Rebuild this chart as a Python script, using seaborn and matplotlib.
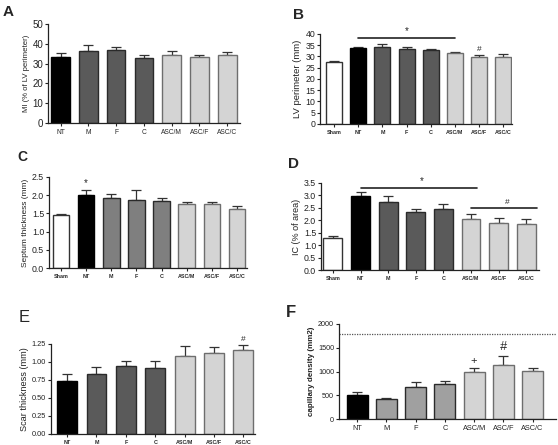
import matplotlib
matplotlib.use("Agg")
import matplotlib.pyplot as plt
import seaborn as sns
import pandas as pd
import numpy as np

sns.set_style("ticks")
plt.rcParams['font.family'] = ['Liberation Sans', 'DejaVu Sans']

cats7 = ["NT", "M", "F", "C", "ASC/M", "ASC/F", "ASC/C"]
cats8 = ["Sham"] + cats7

a_vals = [33.5, 36.5, 37.0, 33.0, 34.5, 33.3, 34.5]
a_err = [2.0, 3.0, 1.3, 1.2, 2.0, 0.8, 1.5]

b_vals = [27.5, 33.7, 34.3, 33.3, 32.7, 31.7, 29.7, 29.7]
b_err = [0.3, 0.3, 1.2, 1.0, 0.5, 0.5, 1.0, 1.3]

c_vals = [1.45, 2.0, 1.93, 1.88, 1.85, 1.75, 1.75, 1.63]
c_err = [0.02, 0.15, 0.1, 0.27, 0.07, 0.07, 0.05, 0.07]

d_vals = [1.28, 2.97, 2.73, 2.32, 2.45, 2.07, 1.90, 1.87]
d_err = [0.1, 0.17, 0.26, 0.13, 0.22, 0.2, 0.2, 0.17]

e_vals = [0.73, 0.83, 0.94, 0.91, 1.08, 1.12, 1.17]
e_err = [0.1, 0.1, 0.07, 0.1, 0.14, 0.09, 0.06]

f_vals = [500, 430, 680, 730, 1000, 1130, 1010]
f_err = [60, 20, 100, 60, 80, 190, 70]
f_ref = 1780

W, H = 558, 445
fig = plt.figure(figsize=(W / 100, H / 100), dpi=100)


def add_ax(left, right, top, bottom):
    return fig.add_axes([left / W, 1 - bottom / H, (right - left) / W, (bottom - top) / H])


def panel(ax, cats, vals, errs, mid, ylim, yticks, ylabel, xlim, width,
          xfont=3.9, xbold=True, ylabfont=6.0, ytickfont=6.0, yticklab=None,
          ylabbold=False):
    df = pd.DataFrame({"g": cats, "v": vals})
    fills, edges = [], []
    for c in cats:
        if c == "Sham":
            fills.append("white"); edges.append("#333333")
        elif c == "NT":
            fills.append("black"); edges.append("black")
        elif c.startswith("ASC"):
            fills.append("#d4d4d4"); edges.append("#6e6e6e")
        else:
            fills.append(mid); edges.append("#2a2a2a")
    sns.barplot(data=df, x="g", y="v", hue="g", palette=fills, legend=False,
                order=cats, width=width, ax=ax, errorbar=None, zorder=2)
    for p, ec in zip(ax.patches, edges):
        p.set_edgecolor(ec)
        p.set_linewidth(1.0)
    x = np.arange(len(cats))
    ax.errorbar(x, vals, yerr=[np.zeros(len(cats)), errs], fmt="none",
                ecolor="#333333", elinewidth=0.9, capsize=3.5, capthick=0.9, zorder=1)
    ax.set_ylim(*ylim)
    ax.set_xlim(*xlim)
    ax.set_yticks(yticks)
    if yticklab is not None:
        ax.set_yticklabels(yticklab)
    ax.set_xlabel("")
    ax.set_ylabel(ylabel, fontsize=ylabfont, color="#222222", labelpad=2,
                  fontweight="bold" if ylabbold else "normal")
    ax.tick_params(axis="y", labelsize=ytickfont, length=2.5, width=0.8, pad=1, colors="#222222")
    ax.tick_params(axis="x", labelsize=xfont, length=2, width=0.8, pad=2)
    for t in ax.get_xticklabels():
        t.set_fontweight("bold" if xbold else "normal")
    for s in ["top", "right"]:
        ax.spines[s].set_visible(False)
    for s in ["left", "bottom"]:
        ax.spines[s].set_linewidth(0.9)
        ax.spines[s].set_color("#222222")


# Panel A
axA = add_ax(48, 240, 24, 123)
panel(axA, cats7, a_vals, a_err, "#5a5a5a", (0, 50), [0, 10, 20, 30, 40, 50],
      "MI (% of LV perimeter)", (-0.45, 6.46), 0.67, xfont=4.8, xbold=False,
      ylabfont=5.6, ytickfont=7)

# Panel B
axB = add_ax(320, 512, 34, 124)
panel(axB, cats8, b_vals, b_err, "#5a5a5a", (0, 40), list(range(0, 41, 5)),
      "LV perimeter (mm)", (-0.58, 7.36), 0.66, ylabfont=6.8, ytickfont=6.3)
axB.plot([1, 5], [38.3, 38.3], color="#222222", lw=1.2, clip_on=False)
axB.text(3, 39.0, "*", ha="center", va="bottom", fontsize=7)
axB.text(6, b_vals[6] + b_err[6] + 0.8, "#", ha="center", va="bottom", fontsize=6)

# Panel C
axC = add_ax(49, 247, 177, 268)
panel(axC, cats8, c_vals, c_err, "#7f7f7f", (0, 2.5), [0, 0.5, 1.0, 1.5, 2.0, 2.5],
      "Septum thickness (mm)", (-0.48, 7.4), 0.66, ylabfont=6.0, ytickfont=6.3,
      yticklab=["0.0", "0.5", "1.0", "1.5", "2.0", "2.5"])
axC.text(1, c_vals[1] + c_err[1] + 0.05, "*", ha="center", va="bottom", fontsize=7)

# Panel D
axD = add_ax(321, 539, 183, 270)
panel(axD, cats8, d_vals, d_err, "#5a5a5a", (0, 3.5), [0, 0.5, 1.0, 1.5, 2.0, 2.5, 3.0, 3.5],
      "IC (% of area)", (-0.43, 7.46), 0.68, ylabfont=6.5, ytickfont=6.3,
      yticklab=["0.0", "0.5", "1.0", "1.5", "2.0", "2.5", "3.0", "3.5"])
axD.plot([1, 5.2], [3.3, 3.3], color="#222222", lw=1.2, clip_on=False)
axD.text(3.2, 3.37, "*", ha="center", va="bottom", fontsize=7)
axD.plot([5, 7.4], [2.5, 2.5], color="#222222", lw=1.2, clip_on=False)
axD.text(6.3, 2.57, "#", ha="center", va="bottom", fontsize=6)

# Panel E
axE = add_ax(51, 255, 344, 434)
panel(axE, cats7, e_vals, e_err, "#5a5a5a", (0, 1.25), [0, 0.25, 0.5, 0.75, 1.0, 1.25],
      "Scar thickness (mm)", (-0.55, 6.4), 0.68, ylabfont=6.6, ytickfont=5.3,
      yticklab=["0.00", "0.25", "0.50", "0.75", "1.00", "1.25"])
axE.text(6, e_vals[6] + e_err[6] + 0.03, "#", ha="center", va="bottom", fontsize=6)

# Panel F
axF = add_ax(339, 556, 324, 419)
panel(axF, cats7, f_vals, f_err, "#a0a0a0", (0, 2000), [0, 500, 1000, 1500, 2000],
      "capillary density (mm2)", (-0.62, 6.8), 0.72, xfont=5.3, xbold=False,
      ylabfont=5.8, ytickfont=5.2, ylabbold=True)
axF.axhline(f_ref, color="#555555", lw=0.9, ls=(0, (1, 1)), zorder=0)
axF.text(4, f_vals[4] + f_err[4] + 40, "+", ha="center", va="bottom", fontsize=8)
axF.text(5, f_vals[5] + f_err[5] + 70, "#", ha="center", va="bottom", fontsize=9, style="italic")

# Panel letters
for lab, x, y, fs, fw in [("A", 3, 5, 11, "bold"), ("B", 293, 8, 11, "bold"),
                          ("C", 17, 150, 10, "bold"), ("D", 288, 157, 11, "bold"),
                          ("E", 19, 310, 12, "normal"), ("F", 286, 305, 12, "bold")]:
    fig.text(x / W, 1 - y / H, lab, fontsize=fs, fontweight=fw, va="top", ha="left")

fig.savefig("out.png", dpi=100)
